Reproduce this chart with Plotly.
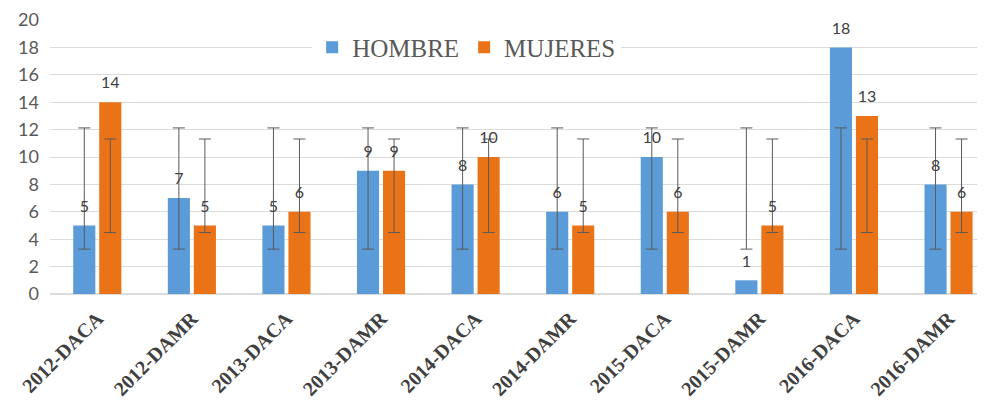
import numpy as np
import plotly.graph_objects as go

categories = ["2012-DACA", "2012-DAMR", "2013-DACA", "2013-DAMR", "2014-DACA",
              "2014-DAMR", "2015-DACA", "2015-DAMR", "2016-DACA", "2016-DAMR"]
hombre = [5, 7, 5, 9, 8, 6, 10, 1, 18, 8]
mujeres = [14, 5, 6, 9, 10, 5, 6, 5, 13, 6]
y_ticks = [0, 2, 4, 6, 8, 10, 12, 14, 16, 18, 20]

BLUE = "#5A9BD8"
ORANGE = "#EA7317"
ERR = "#5a5a5a"
TXT = "#404040"

def stats(vals):
    a = np.array(vals, dtype=float)
    return float(a.mean()), float(a.std(ddof=1))

fig = go.Figure()
series = [("HOMBRE", hombre, BLUE, "h"), ("MUJERES", mujeres, ORANGE, "m")]

for name, vals, col, grp in series:
    fig.add_trace(go.Bar(
        name=name, x=categories, y=vals, marker=dict(color=col, line=dict(width=0)),
        offsetgroup=grp, alignmentgroup="a", hoverinfo="skip",
    ))

for name, vals, col, grp in series:
    m, s = stats(vals)
    fig.add_trace(go.Scatter(
        x=categories, y=[m] * len(categories), mode="markers",
        marker=dict(size=1, opacity=0), offsetgroup=grp, alignmentgroup="a",
        error_y=dict(type="constant", value=s, color=ERR, thickness=1, width=6),
        showlegend=False, hoverinfo="skip",
    ))

for name, vals, col, grp in series:
    fig.add_trace(go.Scatter(
        x=categories, y=vals, mode="markers+text", text=[str(v) for v in vals],
        textposition="top center", marker=dict(size=14, opacity=0),
        textfont=dict(family="Lato", size=16, color=TXT),
        offsetgroup=grp, alignmentgroup="a", cliponaxis=False,
        showlegend=False, hoverinfo="skip",
    ))

fig.update_layout(
    width=985, height=400,
    margin=dict(l=42, r=0, t=12, b=114, autoexpand=False),
    paper_bgcolor="white", plot_bgcolor="white",
    barmode="group", scattermode="group",
    bargap=0.45, bargroupgap=0.15, scattergap=0.45,
    showlegend=True,
    legend=dict(
        orientation="h", x=0.278, y=0.9, xanchor="left", yanchor="middle",
        bgcolor="white", font=dict(family="Liberation Serif", size=25, color="#595959"),
        itemwidth=30, traceorder="normal",
    ),
    xaxis=dict(
        categoryorder="array", categoryarray=categories,
        range=[-0.5, 9.47], tickangle=-45, showgrid=False, zeroline=False,
        showline=False, ticks="", ticklabelstandoff=8,
        tickfont=dict(family="Liberation Serif", size=20, color=TXT, weight="bold"),
    ),
    yaxis=dict(
        range=[0, 20], tickvals=y_ticks, showgrid=True, gridcolor="#dcdcdc",
        gridwidth=1, zeroline=True, zerolinecolor="#dcdcdc", showline=False,
        ticks="", ticklabelstandoff=10,
        tickfont=dict(family="Lato", size=18, color="#595959"),
    ),
    font=dict(family="Lato"),
)

fig.write_html("out.html")
